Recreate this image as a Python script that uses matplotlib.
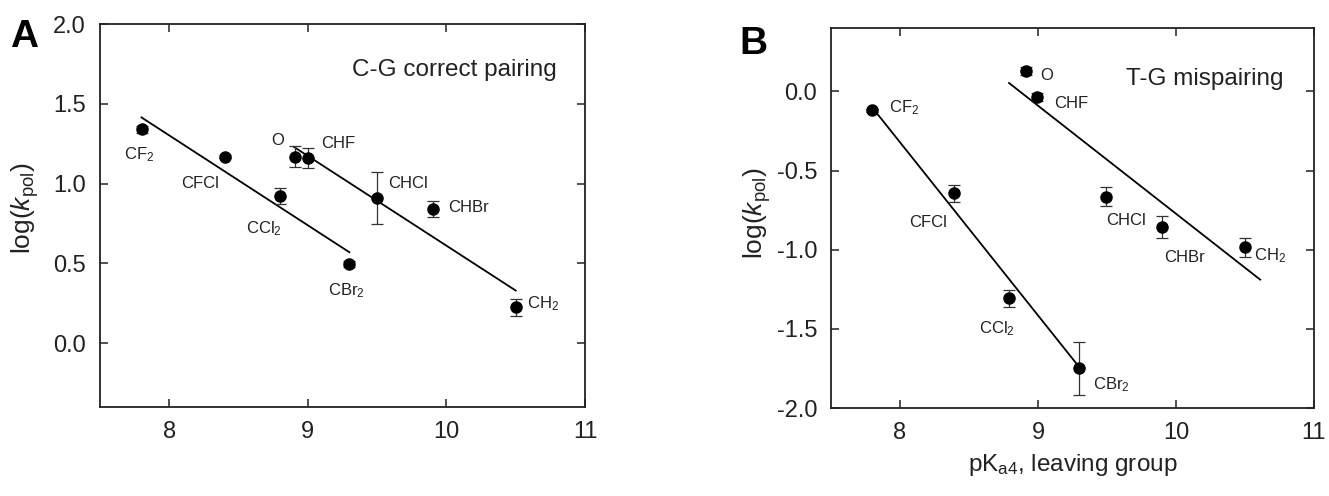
import numpy as np
import matplotlib
matplotlib.use("Agg")
import matplotlib.pyplot as plt

plt.rcParams['font.family'] = ['Liberation Sans', 'DejaVu Sans']
plt.rcParams['mathtext.fontset'] = 'custom'
plt.rcParams['mathtext.rm'] = 'Liberation Sans'
plt.rcParams['mathtext.it'] = 'Liberation Sans:italic'

# --- panel A: C-G correct pairing ---
names_a = ["CF$_2$", "CFCl", "CCl$_2$", "CBr$_2$", "O", "CHF", "CHCl", "CHBr", "CH$_2$"]
pka_a = [7.8, 8.4, 8.8, 9.3, 8.91, 9.0, 9.5, 9.9, 10.5]
logk_a = [1.34, 1.17, 0.92, 0.495, 1.17, 1.16, 0.91, 0.84, 0.225]
err_a = [0.02, 0.01, 0.05, 0.02, 0.065, 0.065, 0.163, 0.05, 0.055]
lab_x_a = [7.78, 8.22, 8.68, 9.28, 8.78, 9.22, 9.72, 10.16, 10.7]
lab_y_a = [1.18, 1.0, 0.72, 0.33, 1.27, 1.25, 1.0, 0.85, 0.245]
fit1_x_a = [7.8, 9.3]
fit1_y_a = [1.415, 0.57]
fit2_x_a = [8.9, 10.5]
fit2_y_a = [1.23, 0.33]

# --- panel B: T-G mispairing ---
names_b = names_a
pka_b = [7.8, 8.39, 8.79, 9.3, 8.91, 8.99, 9.49, 9.9, 10.5]
logk_b = [-0.12, -0.643, -1.307, -1.749, 0.126, -0.036, -0.664, -0.856, -0.984]
err_b = [0.01, 0.054, 0.053, 0.167, 0.025, 0.025, 0.06, 0.067, 0.06]
lab_x_b = [8.03, 8.2, 8.7, 9.53, 9.06, 9.24, 9.64, 10.06, 10.68]
lab_y_b = [-0.103, -0.826, -1.5, -1.85, 0.1, -0.078, -0.816, -1.047, -1.037]
fit1_x_b = [7.8, 9.3]
fit1_y_b = [-0.103, -1.743]
fit2_x_b = [8.79, 10.61]
fit2_y_b = [0.053, -1.189]

xticks = [8, 9, 10, 11]
yticks_a = [0.0, 0.5, 1.0, 1.5, 2.0]
yticks_b = [-2.0, -1.5, -1.0, -0.5, 0.0]

fig = plt.figure(figsize=(13.29, 4.96), dpi=100)
ax_a = fig.add_axes([0.0752, 0.1794, 0.365, 0.772])
ax_b = fig.add_axes([0.6253, 0.1774, 0.3634, 0.766])

ink = '#222222'


def draw(ax, x, y, e, names, lx, ly, f1x, f1y, f2x, f2y, title, tx, ty, ylim, yticks):
    ax.plot(f1x, f1y, color='black', lw=1.3, zorder=2)
    ax.plot(f2x, f2y, color='black', lw=1.3, zorder=2)
    ax.errorbar(x, y, yerr=e, fmt='o', color='black', ms=8, ecolor='#333333',
                elinewidth=0.9, capsize=4, capthick=0.9, zorder=3)
    for n, a, b in zip(names, lx, ly):
        ax.text(a, b, n, fontsize=12, ha='center', va='center', color=ink)
    ax.text(tx, ty, title, fontsize=17.5, ha='center', va='center', color=ink)
    ax.set_xlim(7.5, 11)
    ax.set_ylim(*ylim)
    ax.set_xticks(xticks)
    ax.set_yticks(yticks)
    ax.set_yticklabels(["%.1f" % v for v in yticks])
    ax.tick_params(direction='in', length=6, width=1.1, top=True, right=True,
                   labelsize=17, pad=10, colors=ink)
    for s in ax.spines.values():
        s.set_linewidth(1.3)
        s.set_color(ink)
    ax.set_ylabel("log($\\mathit{k}_{\\mathrm{pol}}$)", fontsize=19, color=ink)


draw(ax_a, pka_a, logk_a, err_a, names_a, lab_x_a, lab_y_a,
     fit1_x_a, fit1_y_a, fit2_x_a, fit2_y_a,
     "C-G correct pairing", 10.06, 1.71, (-0.4, 2.0), yticks_a)
ax_a.yaxis.set_label_coords(-0.122, 0.52)

draw(ax_b, pka_b, logk_b, err_b, names_b, lab_x_b, lab_y_b,
     fit1_x_b, fit1_y_b, fit2_x_b, fit2_y_b,
     "T-G mispairing", 10.21, 0.08, (-2.0, 0.4), yticks_b)
ax_b.yaxis.set_label_coords(-0.12, 0.513)
ax_b.set_xlabel("pK$_{\\mathrm{a4}}$, leaving group", fontsize=17.5, color=ink, labelpad=6)

fig.text(0.0184, 0.926, "A", fontsize=28, fontweight='bold', ha='center', va='center')
fig.text(0.567, 0.911, "B", fontsize=28, fontweight='bold', ha='center', va='center')

fig.savefig("out.png", dpi=100)
